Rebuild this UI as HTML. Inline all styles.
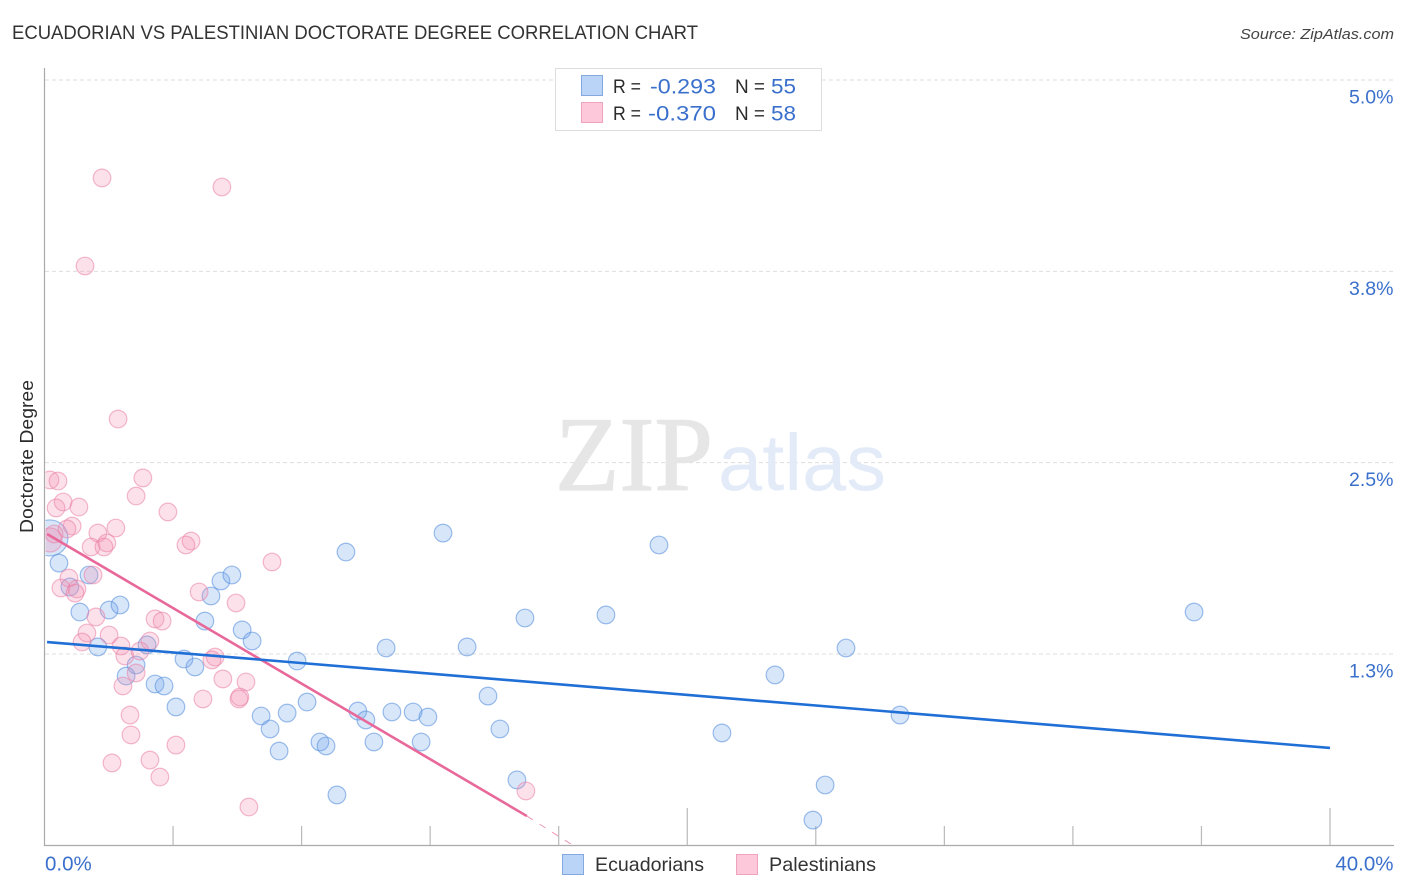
<!DOCTYPE html>
<html lang="en">
<head>
<meta charset="utf-8">
<title>Ecuadorian vs Palestinian Doctorate Degree Correlation Chart</title>
<style>
html,body{margin:0;padding:0;background:#fff;}
body{width:1406px;height:892px;overflow:hidden;}
svg{display:block;font-family:"Liberation Sans",sans-serif;}
</style>
</head>
<body>
<svg id="chart" width="1406" height="892" viewBox="0 0 1406 892" xmlns="http://www.w3.org/2000/svg">
  <defs>
    <clipPath id="plot-clip"><rect x="45.5" y="60" width="1350" height="785"></rect></clipPath>
  </defs>
  <rect x="0" y="0" width="1406" height="892" fill="#ffffff"></rect>
  <text x="12" y="39" font-size="19.5" fill="#333333" textLength="686" lengthAdjust="spacingAndGlyphs">ECUADORIAN VS PALESTINIAN DOCTORATE DEGREE CORRELATION CHART</text>
  <text x="1394" y="39" font-size="15" font-style="italic" fill="#444444" text-anchor="end" textLength="154" lengthAdjust="spacingAndGlyphs">Source: ZipAtlas.com</text>
  <g id="grid"></g>
  <g>
    <text x="555" y="490" font-family="'Liberation Serif',serif" font-size="106" fill="#e6e6e6" stroke="#e6e6e6" stroke-width="1.2" textLength="158" lengthAdjust="spacingAndGlyphs">ZIP</text>
    <text x="718" y="490" font-size="80" fill="#e3ebf9" textLength="168" lengthAdjust="spacingAndGlyphs">atlas</text>
  </g>
  <g id="axes"></g>
  <g id="points" clip-path="url(#plot-clip)"></g>
  <g id="trends"></g>
  <text transform="translate(33,456.5) rotate(-90)" font-size="18" fill="#2b2b2b" text-anchor="middle" textLength="153" lengthAdjust="spacingAndGlyphs">Doctorate Degree</text>
  <g>
    <rect x="555.5" y="68.5" width="266" height="62" fill="#ffffff" stroke="#dddddd" stroke-width="1"></rect>
    <rect x="581.5" y="75.5" width="21" height="20" fill="#b9d4f7" stroke="#84a9e0" stroke-width="1"></rect>
    <text x="613" y="93" font-size="19" fill="#2b2b2b" textLength="28" lengthAdjust="spacingAndGlyphs">R =</text>
    <text x="650" y="93.5" font-size="21.5" fill="#3a70cc" textLength="66" lengthAdjust="spacingAndGlyphs">-0.293</text>
    <text x="735" y="93" font-size="19" fill="#2b2b2b" textLength="30" lengthAdjust="spacingAndGlyphs">N =</text>
    <text x="771" y="93.5" font-size="21.5" fill="#3a70cc" textLength="25" lengthAdjust="spacingAndGlyphs">55</text>
    <rect x="581.5" y="102.5" width="21" height="20" fill="#fcc8da" stroke="#f1a2bc" stroke-width="1"></rect>
    <text x="613" y="120" font-size="19" fill="#2b2b2b" textLength="28" lengthAdjust="spacingAndGlyphs">R =</text>
    <text x="648" y="120.5" font-size="21.5" fill="#3a70cc" textLength="68" lengthAdjust="spacingAndGlyphs">-0.370</text>
    <text x="735" y="120" font-size="19" fill="#2b2b2b" textLength="30" lengthAdjust="spacingAndGlyphs">N =</text>
    <text x="771" y="120.5" font-size="21.5" fill="#3a70cc" textLength="25" lengthAdjust="spacingAndGlyphs">58</text>
  </g>
  <g>
    <rect x="562.5" y="854.5" width="21" height="20" fill="#b9d4f7" stroke="#84a9e0" stroke-width="1"></rect>
    <text x="595" y="871" font-size="19.5" fill="#333333" textLength="109" lengthAdjust="spacingAndGlyphs">Ecuadorians</text>
    <rect x="736.5" y="854.5" width="21" height="20" fill="#fcc8da" stroke="#f1a2bc" stroke-width="1"></rect>
    <text x="769" y="871" font-size="19.5" fill="#333333" textLength="107" lengthAdjust="spacingAndGlyphs">Palestinians</text>
  </g>
</svg>
<script>
const yTickValues = [5, 3.75, 2.5, 1.25];
const yTickLabels = ["5.0%", "3.8%", "2.5%", "1.3%"];
const xTickValues = [4, 8, 12, 16, 20, 24, 28, 32, 36, 40];
const xMajorTicks = [20, 40];
const xEndValues = [0, 40];
const xEndLabels = ["0.0%", "40.0%"];

const ecuadorianX = [0.17,0.45,1.385,0.79,1.10,2.01,2.35,1.66,3.19,2.85,2.54,3.44,3.72,4.09,4.34,4.68,4.99,5.18,5.49,5.83,6.15,6.46,7.86,8.17,6.74,7.02,7.55,7.30,8.57,8.76,9.10,9.38,9.75,10.00,10.25,10.63,10.81,11.47,11.93,11.72,12.40,13.15,13.80,14.17,14.70,14.95,17.47,19.12,21.08,22.73,24.29,23.91,24.94,26.62,35.77];
const ecuadorianY = [2.008,1.844,1.766,1.688,1.524,1.537,1.570,1.296,1.309,1.178,1.106,1.054,1.041,0.904,1.217,1.165,1.465,1.629,1.727,1.766,1.407,1.335,1.204,0.936,0.845,0.760,0.864,0.616,0.675,0.649,0.329,1.916,0.877,0.819,0.675,1.289,0.871,0.871,0.838,0.675,2.040,1.296,0.975,0.760,0.427,1.485,1.505,1.962,0.734,1.113,0.394,0.165,1.289,0.851,1.524];

const palestinianX = [0.17,0.30,0.17,0.42,0.58,0.36,1.07,0.86,0.70,1.66,2.22,1.45,1.94,1.85,3.06,2.85,3.84,4.56,4.40,7.08,1.51,0.76,0.51,1.01,0.95,4.81,5.96,1.60,3.44,3.66,1.32,1.17,2.01,2.38,3.28,2.97,2.50,2.85,2.44,5.31,5.21,5.55,6.27,4.93,6.08,6.05,2.66,2.69,4.09,2.10,3.28,3.59,6.36,14.98,1.79,5.52,1.26,2.29];
const palestinianY = [1.995,2.034,2.387,2.380,2.243,2.204,2.210,2.086,2.067,2.040,2.073,1.949,1.975,1.949,2.400,2.282,2.178,1.988,1.962,1.851,1.766,1.746,1.681,1.675,1.648,1.655,1.583,1.492,1.479,1.465,1.387,1.328,1.374,1.302,1.335,1.269,1.237,1.126,1.041,1.230,1.211,1.087,1.067,0.956,0.969,0.956,0.851,0.721,0.655,0.538,0.557,0.446,0.250,0.355,4.360,4.301,3.785,2.785];

const ecuadorianTrendX = [0.08, 40];
const ecuadorianTrendY = [1.328, 0.636];
const palestinianTrendX = [0.08, 15.01];
const palestinianTrendY = [2.034, 0.191];
const palestinianExtensionX = [15.01, 16.44];
const palestinianExtensionY = [0.191, 0];

const NS = "http://www.w3.org/2000/svg";
function xScale(v) { return 44.5 + v * 32.1375; }
function yScale(v) { return 845.3 - v * 153.06; }
function make(tag, attrs, parent) {
  const el = document.createElementNS(NS, tag);
  for (const k in attrs) el.setAttribute(k, attrs[k]);
  parent.appendChild(el);
  return el;
}
const grid = document.getElementById("grid");
const axes = document.getElementById("axes");
const pointsLayer = document.getElementById("points");
const trends = document.getElementById("trends");

yTickValues.forEach(function (v, i) {
  const line = make("line", {x1: 45, x2: 1394, y1: yScale(v), y2: yScale(v), stroke: "#dddddd", "stroke-width": 1, "stroke-dasharray": "4 3"}, grid);
  
  
  const label = make("text", {x: 1393.5, y: yScale(v) + 23.5, "font-size": 19.5, fill: "#3a70cc", "text-anchor": "end"}, axes);
  label.textContent = yTickLabels[i];
  
  
});

const yAxis = make("line", {x1: 44.5, x2: 44.5, y1: 68, y2: 846, stroke: "#aaaaaa", "stroke-width": 1.2}, axes);


const xAxis = make("line", {x1: 44, x2: 1394, y1: 845.5, y2: 845.5, stroke: "#aaaaaa", "stroke-width": 1.2}, axes);



xTickValues.forEach(function (v) {
  const top = xMajorTicks.indexOf(v) >= 0 ? 808 : 826;
  const tick = make("line", {x1: xScale(v), x2: xScale(v), y1: top, y2: 845, stroke: "#b9b9b9", "stroke-width": 1.2}, axes);
  
  
});

xEndValues.forEach(function (v, i) {
  const label = make("text", {x: i === 0 ? xScale(v) + 0.5 : xScale(v) + 63.5, y: 870.5, "font-size": 20.5, fill: "#3a70cc", "text-anchor": i === 0 ? "start" : "end"}, axes);
  label.textContent = xEndLabels[i];
  
  
});

ecuadorianX.forEach(function (v, i) {
  const c = make("circle", {cx: xScale(v), cy: yScale(ecuadorianY[i]), r: i === 0 ? 18 : 8.8, fill: "#6ea4ec", "fill-opacity": 0.27, stroke: "#5b92de", "stroke-opacity": 0.6, "stroke-width": 1.2}, pointsLayer);
  
  
});
palestinianX.forEach(function (v, i) {
  const c = make("circle", {cx: xScale(v), cy: yScale(palestinianY[i]), r: i === 0 ? 12 : 8.8, fill: "#f48fb1", "fill-opacity": 0.27, stroke: "#ea7fa5", "stroke-opacity": 0.55, "stroke-width": 1.2}, pointsLayer);
  
  
});

const pinkExt = make("line", {x1: xScale(palestinianExtensionX[0]), y1: yScale(palestinianExtensionY[0]), x2: xScale(palestinianExtensionX[1]), y2: yScale(palestinianExtensionY[1]), stroke: "#e8689a", "stroke-width": 1, "stroke-dasharray": "7 8", "stroke-opacity": 0.7}, trends);


const pinkLine = make("line", {x1: xScale(palestinianTrendX[0]), y1: yScale(palestinianTrendY[0]), x2: xScale(palestinianTrendX[1]), y2: yScale(palestinianTrendY[1]), stroke: "#e8689a", "stroke-width": 2.6}, trends);


const blueLine = make("line", {x1: xScale(ecuadorianTrendX[0]), y1: yScale(ecuadorianTrendY[0]), x2: xScale(ecuadorianTrendX[1]), y2: yScale(ecuadorianTrendY[1]), stroke: "#1f6fd6", "stroke-width": 2.6}, trends);


</script>
</body>
</html>
